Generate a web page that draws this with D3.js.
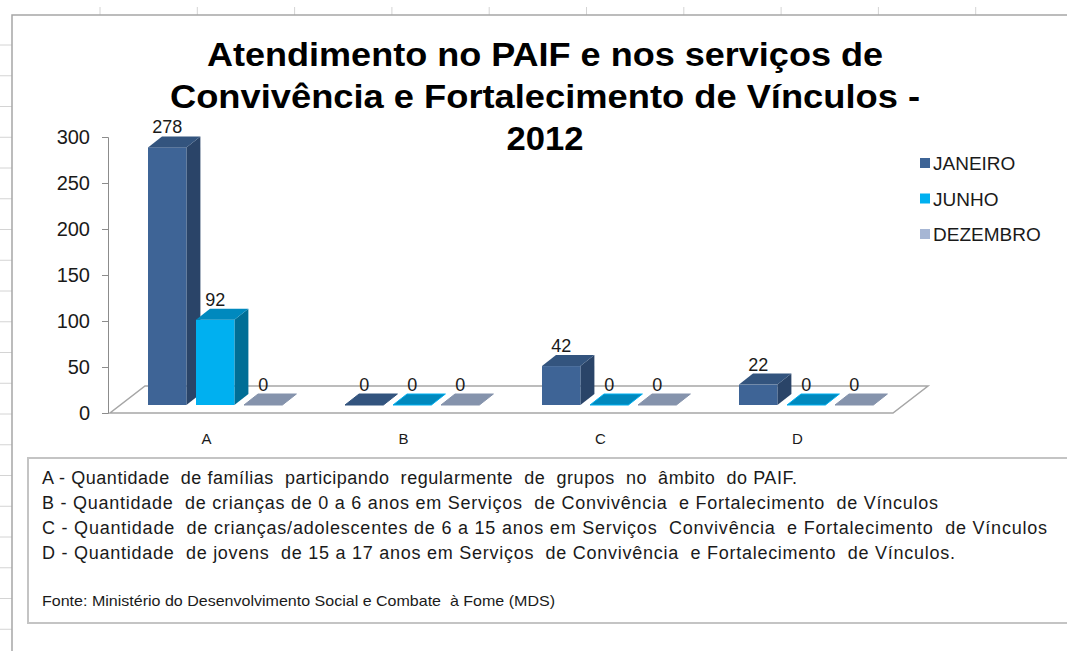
<!DOCTYPE html>
<html lang="pt">
  <head>
    <meta charset="utf-8">
    <title>Atendimento no PAIF - 2012</title>
    <script src="https://d3js.org/d3.v7.js"></script>
    <style>
      body { margin: 0; background: white; }
      text { font-family: "Liberation Sans", Arial, sans-serif; }
    </style>
  </head>

  <body>
    <script>

      // data
      const categories = ["A", "B", "C", "D"];
      const seriesNames = ["JANEIRO", "JUNHO", "DEZEMBRO"];
      const janeiro = [278, 0, 42, 22];
      const junho = [92, 0, 0, 0];
      const dezembro = [0, 0, 0, 0];
      const yTicks = [0, 50, 100, 150, 200, 250, 300];

      const titleLines = ["Atendimento no PAIF e nos serviços de",
                          "Convivência e Fortalecimento de Vínculos -",
                          "2012"];

      const notes = ["A - Quantidade  de famílias  participando  regularmente  de  grupos  no  âmbito  do PAIF.",
                     "B - Quantidade  de crianças de 0 a 6 anos em Serviços  de Convivência  e Fortalecimento  de Vínculos",
                     "C - Quantidade  de crianças/adolescentes de 6 a 15 anos em Serviços  Convivência  e Fortalecimento  de Vínculos",
                     "D - Quantidade  de jovens  de 15 a 17 anos em Serviços  de Convivência  e Fortalecimento  de Vínculos."];
      const source = "Fonte: Ministério do Desenvolvimento Social e Combate  à Fome (MDS)";

      const w = 1067;
      const h = 651;

      // colours: front, top, side
      const colors = {
        JANEIRO:  {front: "#3e6496", top: "#33547e", side: "#2a4468"},
        JUNHO:    {front: "#00b0f0", top: "#0089be", side: "#006e96"},
        DEZEMBRO: {front: "#a6b6d4", top: "#8593ac", side: "#6d7a90"}
      };

      const series = seriesNames.map((name, i) => ({
        name: name,
        values: [janeiro, junho, dezembro][i]
      }));

      const svg = d3.select("body")
                    .append("svg")
                    .attr("width", w)
                    .attr("height", h);

      svg.append("rect")
         .attr("width", w)
         .attr("height", h)
         .attr("fill", "white");

      // spreadsheet grid ticks around the chart object
      const rowTicks = d3.range(20).map(k => 45 + k * 30.75);
      const colTicks = d3.range(10).map(k => 100 + k * 97.3);

      svg.append("g").selectAll("line")
         .data(rowTicks)
         .join("line")
         .attr("x1", 0).attr("x2", 12)
         .attr("y1", d => d).attr("y2", d => d)
         .attr("stroke", "#d4d4d4");

      svg.append("g").selectAll("line")
         .data(colTicks)
         .join("line")
         .attr("x1", d => d).attr("x2", d => d)
         .attr("y1", 7).attr("y2", 15)
         .attr("stroke", "#d4d4d4");

      // chart object border
      svg.append("path")
         .attr("d", "M12,651 L12,15 L1067,15")
         .attr("fill", "none")
         .attr("stroke", "#a6a6a6")
         .attr("stroke-width", 1.5);

      // title, stretched to the widths seen in the picture
      const titleWidths = [676, 750, 77];
      svg.append("g").selectAll("text")
         .data(titleLines)
         .join("text")
         .attr("x", 545)
         .attr("y", (d, i) => 66 + i * 42)
         .attr("text-anchor", "middle")
         .attr("font-size", 33)
         .attr("font-weight", "bold")
         .attr("fill", "black")
         .attr("textLength", (d, i) => titleWidths[i])
         .attr("lengthAdjust", "spacingAndGlyphs")
         .text(d => d);

      // scales
      const xScale = d3.scaleBand()
                       .domain(categories)
                       .range([108, 108 + 4 * 197]);

      const innerScale = d3.scaleBand()
                           .domain(seriesNames)
                           .range([40, 184])
                           .paddingInner(0.2)
                           .paddingOuter(0.1)
                           .align(0);

      // axis scale sits on the front plane, bars a bit further back
      const yAxisScale = d3.scaleLinear()
                           .domain([0, 300])
                           .range([413, 137]);

      const yBar = d3.scaleLinear()
                     .domain([0, 300])
                     .range([405, 127]);

      const depth = {dx: 14, dy: -11};
      const floor = {dx: 35, dy: -27};

      // floor
      const floorLeft = 110;
      const floorRight = 893;
      svg.append("path")
         .attr("d", `M${floorLeft},413 L${floorRight},413 L${floorRight + floor.dx},${413 + floor.dy} L${floorLeft + floor.dx},${413 + floor.dy} Z`)
         .attr("fill", "white")
         .attr("stroke", "#a6a6a6")
         .attr("stroke-width", 1.5);

      // y axis
      const yAxis = d3.axisLeft()
                      .scale(yAxisScale)
                      .tickValues(yTicks)
                      .tickSize(6)
                      .tickPadding(12);

      const axisG = svg.append("g")
                       .attr("transform", "translate(108, 0)")
                       .call(yAxis);
      axisG.select(".domain").attr("stroke", "#8c8c8c");
      axisG.selectAll(".tick line").attr("stroke", "#8c8c8c");
      axisG.selectAll(".tick text")
           .attr("font-size", 20)
           .attr("font-family", "Liberation Sans, Arial, sans-serif")
           .attr("fill", "#1a1a1a");

      // category labels
      svg.append("g").selectAll("text")
         .data(categories)
         .join("text")
         .attr("x", d => xScale(d) + xScale.bandwidth() / 2)
         .attr("y", 444)
         .attr("text-anchor", "middle")
         .attr("font-size", 15)
         .attr("fill", "#1a1a1a")
         .text(d => d);

      // bars
      const bw = innerScale.bandwidth();
      const barData = [];
      series.forEach(s => {
        s.values.forEach((v, i) => {
          barData.push({name: s.name, cat: categories[i], value: v});
        });
      });

      const barG = svg.append("g")
                      .selectAll("g")
                      .data(barData)
                      .join("g");

      barG.each(function(d) {
        const g = d3.select(this);
        const x0 = xScale(d.cat) + innerScale(d.name);
        const x1 = x0 + bw;
        const yb = yBar(0);
        const yt = yBar(d.value);
        const c = colors[d.name];

        if (d.value > 0) {
          // side
          g.append("path")
           .attr("d", `M${x1},${yt} L${x1 + depth.dx},${yt + depth.dy} L${x1 + depth.dx},${yb + depth.dy} L${x1},${yb} Z`)
           .attr("fill", c.side);
          // front
          g.append("rect")
           .attr("x", x0)
           .attr("y", yt)
           .attr("width", bw)
           .attr("height", yb - yt)
           .attr("fill", c.front);
        }
        // top
        g.append("path")
         .attr("d", `M${x0},${yt} L${x1},${yt} L${x1 + depth.dx},${yt + depth.dy} L${x0 + depth.dx},${yt + depth.dy} Z`)
         .attr("fill", c.top)
         .attr("stroke", d.value > 0 ? "none" : (d.name === "JUNHO" ? c.front : c.top))
         .attr("stroke-width", 1);

        // value label
        g.append("text")
         .attr("x", x0 + bw / 2)
         .attr("y", yt + depth.dy - 3)
         .attr("text-anchor", "middle")
         .attr("font-size", 18)
         .attr("fill", "#1a1a1a")
         .text(d.value);
      });

      // legend
      const legend = svg.append("g")
                        .selectAll("g")
                        .data(seriesNames)
                        .join("g")
                        .attr("transform", (d, i) => `translate(920, ${163 + i * 35.5})`);

      legend.append("rect")
            .attr("x", 0)
            .attr("y", -5)
            .attr("width", 10)
            .attr("height", 10)
            .attr("fill", d => colors[d].front);

      legend.append("text")
            .attr("x", 13)
            .attr("y", 7)
            .attr("font-size", 19)
            .attr("fill", "#1a1a1a")
            .text(d => d);

      // notes box
      svg.append("rect")
         .attr("x", 28)
         .attr("y", 458)
         .attr("width", 1100)
         .attr("height", 165)
         .attr("fill", "white")
         .attr("stroke", "#c4c4c4")
         .attr("stroke-width", 2);

      const noteWidths = [755, 896, 1005, 913];
      svg.append("g").selectAll("text")
         .data(notes)
         .join("text")
         .attr("x", 42)
         .attr("y", (d, i) => 484 + i * 25)
         .attr("font-size", 18)
         .attr("fill", "#1a1a1a")
         .attr("textLength", (d, i) => noteWidths[i])
         .attr("lengthAdjust", "spacing")
         .style("white-space", "pre")
         .text(d => d);

      svg.append("text")
         .attr("x", 42)
         .attr("y", 606)
         .attr("font-size", 15)
         .attr("fill", "#1a1a1a")
         .attr("textLength", 513)
         .attr("lengthAdjust", "spacingAndGlyphs")
         .style("white-space", "pre")
         .text(source);

    </script>
  </body>
</html>
